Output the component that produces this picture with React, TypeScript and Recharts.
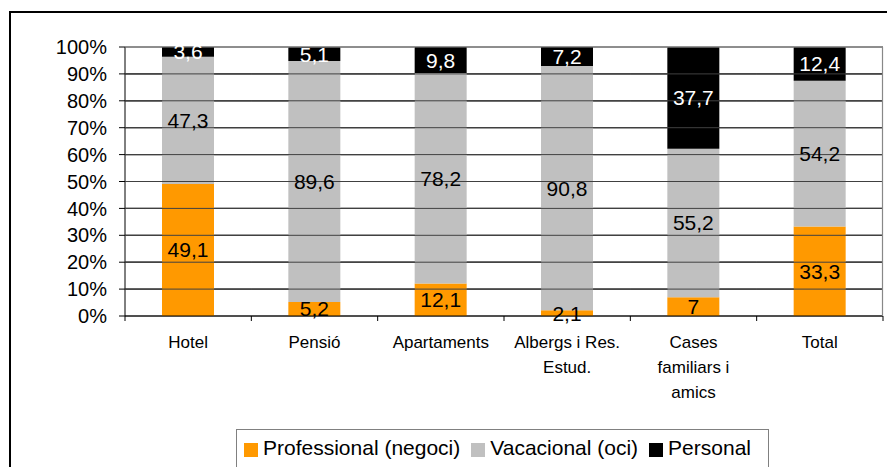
import React from "react";
import {
  BarChart,
  Bar,
  XAxis,
  YAxis,
  CartesianGrid,
  ReferenceLine,
  LabelList,
} from "recharts";

// categories split on "\n" for the multi-line axis labels
const categories = [
  "Hotel",
  "Pensió",
  "Apartaments",
  "Albergs i Res.\nEstud.",
  "Cases\nfamiliars i\namics",
  "Total",
];
const professional = [49.1, 5.2, 12.1, 2.1, 7, 33.3];
const vacacional = [47.3, 89.6, 78.2, 90.8, 55.2, 54.2];
const personal = [3.6, 5.1, 9.8, 7.2, 37.7, 12.4];
const yTicks = [0, 10, 20, 30, 40, 50, 60, 70, 80, 90, 100];

const series = [
  { key: "professional", name: "Professional (negoci)", color: "#FF9900", text: "#000" },
  { key: "vacacional", name: "Vacacional (oci)", color: "#C0C0C0", text: "#000" },
  { key: "personal", name: "Personal", color: "#000000", text: "#fff" },
];

const data = categories.map((c, i) => ({
  name: c,
  professional: professional[i],
  vacacional: vacacional[i],
  personal: personal[i],
}));

const FONT = "'Liberation Sans', Arial, sans-serif";
const W = 887;
const H = 467;
const M = { top: 47, right: 4, left: 60, bottom: 71 };
const Y_W = 65;
const X_H = 80;
const BAR_W = 52;
const PLOT_X = M.left + Y_W;
const PLOT_W = W - M.left - M.right - Y_W;
const PLOT_H = H - M.top - M.bottom - X_H;
const BAND = PLOT_W / categories.length;

const fmt = (v: any) => String(v).replace(".", ",");

function CategoryTick(props: any) {
  const { x, y, payload, index } = props;
  const lines = String(payload.value).split("\n");
  const axisY = y - 7;
  const left = x - BAND / 2;
  return (
    <g>
      <line x1={left} x2={left} y1={axisY} y2={axisY + 5} stroke="#000" />
      {index === categories.length - 1 && (
        <line x1={x + BAND / 2} x2={x + BAND / 2} y1={axisY} y2={axisY + 5} stroke="#000" />
      )}
      <text x={x} y={y + 25} textAnchor="middle" fill="#000" fontSize={17} fontFamily={FONT}>
        {lines.map((l, i) => (
          <tspan key={i} x={x} dy={i === 0 ? 0 : 25}>
            {l}
          </tspan>
        ))}
      </text>
    </g>
  );
}

// y tick label plus the grid row in the gaps between bars
function PercentTick(props: any) {
  const { x, y, payload } = props;
  const v = payload.value;
  const col = v === 100 ? "#888888" : "#404040";
  const segs: React.ReactNode[] = [];
  if (v !== 0) {
    categories.forEach((_, i) => {
      const start = PLOT_X + i * BAND;
      const mid = start + BAND / 2;
      segs.push(
        <path key={`a${i}`} d={`M${start},${y}H${mid - BAR_W / 2}`} stroke={col} strokeWidth={1.2} fill="none" />,
        <path key={`b${i}`} d={`M${mid + BAR_W / 2},${y}H${start + BAND}`} stroke={col} strokeWidth={1.2} fill="none" />
      );
    });
  }
  return (
    <g>
      {segs}
      {v === 100 && (
        <path
          d={`M${PLOT_X + PLOT_W - 0.5},${y}V${y + PLOT_H}`}
          stroke="#888888"
          strokeWidth={1.2}
          fill="none"
        />
      )}
      <text x={x} y={y} dy="0.355em" textAnchor="end" fill="#000" fontSize={20} fontFamily={FONT}>
        {`${v}%`}
      </text>
    </g>
  );
}

export default function App() {
  return (
    <div
      style={{
        position: "fixed",
        left: 0,
        top: 0,
        width: W,
        height: H,
        overflow: "hidden",
        background: "#fff",
        fontFamily: FONT,
      }}
    >
      {/* outer chart frame, runs off the right and bottom */}
      <div
        style={{
          position: "absolute",
          left: 9,
          top: 11,
          width: 920,
          height: 520,
          border: "2px solid #000",
        }}
      />
      <div style={{ position: "absolute", left: 0, top: 0 }}>
        <BarChart width={W} height={H} data={data} margin={M} barSize={BAR_W}>
          <CartesianGrid vertical={false} stroke="#404040" strokeWidth={1} />
          {yTicks.slice(1).map((t) => (
            <ReferenceLine
              key={t}
              y={t}
              stroke={t === 100 ? "#888888" : "#404040"}
              strokeWidth={1}
            />
          ))}
          <XAxis
            dataKey="name"
            interval={0}
            height={X_H}
            tickSize={5}
            tickMargin={2}
            tickLine={false}
            axisLine={{ stroke: "#000" }}
            tick={<CategoryTick />}
          />
          <YAxis
            width={Y_W}
            type="number"
            domain={[0, 100]}
            allowDataOverflow
            ticks={yTicks}
            interval={0}
            tickSize={6}
            tickMargin={12}
            tickLine={{ stroke: "#000" }}
            axisLine={{ stroke: "#000" }}
            tick={<PercentTick />}
          />
          {series.map((s) => (
            <Bar
              key={s.key}
              dataKey={s.key}
              name={s.name}
              stackId="a"
              fill={s.color}
              isAnimationActive={false}
            >
              <LabelList
                dataKey={s.key}
                position="center"
                formatter={fmt}
                fill={s.text}
                fontSize={21}
                fontFamily={FONT}
              />
            </Bar>
          ))}
        </BarChart>
      </div>
      {/* legend */}
      <div
        style={{
          position: "absolute",
          left: 236,
          top: 429,
          width: 533,
          height: 80,
          border: "1px solid #808080",
          background: "#fff",
          display: "flex",
          alignItems: "flex-start",
          paddingLeft: 7,
          paddingTop: 6,
          boxSizing: "border-box",
        }}
      >
        {series.map((s) => (
          <div
            key={s.key}
            style={{ display: "flex", alignItems: "center", marginRight: 11, fontSize: 21, lineHeight: "24px" }}
          >
            <span
              style={{
                display: "inline-block",
                width: 14,
                height: 14,
                background: s.color,
                marginRight: 5,
                marginTop: 4,
              }}
            />
            <span style={{ color: "#000" }}>{s.name}</span>
          </div>
        ))}
      </div>
    </div>
  );
}
